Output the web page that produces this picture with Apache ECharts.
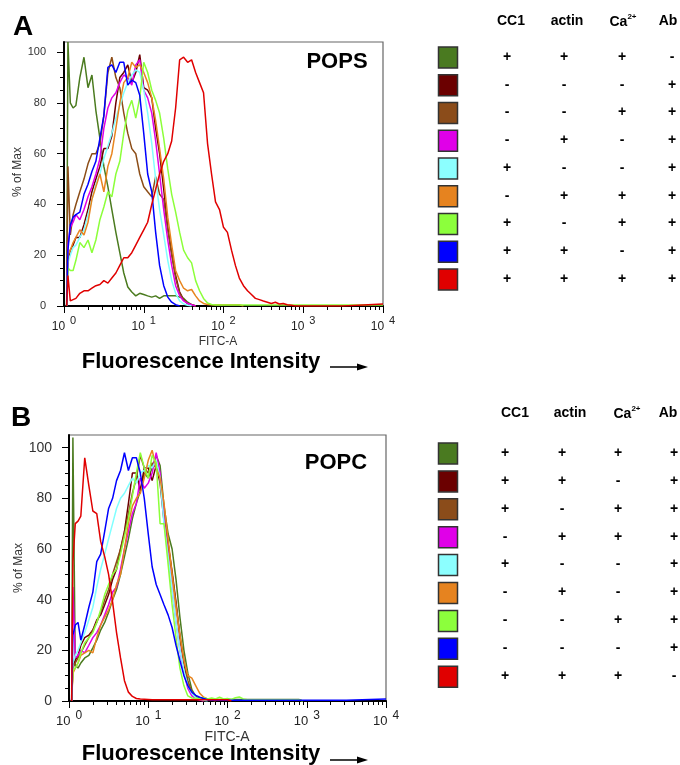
<!DOCTYPE html>
<html>
<head>
<meta charset="utf-8">
<script src="https://cdn.jsdelivr.net/npm/echarts@6/dist/echarts.min.js"></script>
<style>
    html, body { margin: 0; padding: 0; background: #fff; }
    #chart { width: 680px; height: 765px; }
</style>
</head>
<body>
<div id="chart"></div>
<script>
// FITC-A channel positions (intensity) shared by all histograms
var bins = [1.08, 1.12, 1.2, 1.3,
    1.41, 1.58, 1.78, 2.0, 2.24, 2.51, 2.82, 3.16, 3.55, 3.98,
    4.47, 5.01, 5.62, 6.31, 7.08, 7.94, 8.91, 10,
    11.2, 12.6, 14.1, 15.8, 17.8, 20, 22.4, 25.1, 28.2, 31.6, 35.5, 39.8, 44.7, 50.1, 56.2, 63.1, 70.8, 79.4, 89.1, 100,
    112, 126, 141, 158, 178, 200, 224, 251, 282, 316, 355, 398, 447, 501, 562, 631, 708, 794, 891, 1000,
    3162, 10000];

// panel A (POPS), % of max
var aGreen = [0, 104, 80, 78, 79, 90, 98, 86, 91, 77, 66, 55, 47, 38, 29, 21, 13, 7.5, 5.5, 4, 5, 4.5, 4, 3.5, 4, 3, 4, 4, 4, 4, 3.5, 3, 1.5, 0.5, 0];
var aMaroon = [0, 18, 22, 24, 27, 27, 32, 38, 45, 50, 55, 62, 62, 67, 80, 90, 92, 95, 88, 92, 99, 86, 85, 82, 70, 60, 46, 31, 21, 12, 5.5, 2.5, 1, 0.5, 0];
var aBrown = [0, 55, 28, 36, 40, 45, 50, 56, 60, 60, 64, 75, 92, 98, 90, 86, 76, 68, 62, 60, 52, 47, 45, 43, 51, 44, 42, 30, 20, 11, 5, 2.5, 1, 0.5, 0];
var aMagenta = [0, 24, 31, 33, 36, 34, 38, 43, 47, 52, 58, 70, 78, 82, 84, 88, 91, 90, 87, 95, 97, 85, 82, 76, 65, 52, 38, 26, 16, 8, 4, 2, 1, 0.5, 0];
var aCyan = [0, 17, 20, 23, 24, 27, 30, 36, 42, 48, 52, 58, 63, 68, 74, 79, 84, 88, 91, 93, 92, 85, 76, 64, 50, 38, 28, 18, 10, 5, 2, 0.8, 0.3, 0];
var aOrange = [0, 20, 22, 25, 27, 30, 28, 33, 42, 47, 52, 45, 55, 60, 70, 80, 88, 90, 96, 94, 95, 92, 88, 82, 73, 62, 50, 35, 24, 14, 10, 7, 6, 6.5, 4, 2, 1, 0.6, 0.5, 0.5, 0.5, 0.5, 0.5, 0.5, 0.5, 0.5, 0];
var aLight = [0, 15, 14, 14, 18, 25, 23, 26, 21, 26, 34, 39, 45, 43, 52, 57, 68, 77, 81, 74, 82, 96, 92, 85, 81, 76, 66, 54, 44, 37, 29, 22, 19, 17, 10, 6, 3, 1.2, 0.6,
    0.4, 0.4, 0.4, 0.4, 0.4, 0.4, 0.4, 0.4, 0.4, 0.4, 0.4, 0.4, 0.4, 0.4, 0.4, 0.4, 0.4, 0.4, 0.4, 0.4, 0.4, 0.4, 0.4, 0.4, 0.4];
var aBlue = [0, 22, 32, 35, 36, 37, 44, 48, 53, 57, 66, 75, 94, 95, 92, 96, 96, 87, 89, 88, 83, 68, 52, 45, 29, 16, 8, 3.5, 1.5, 0.5, 0];
var aRed = [0, 12, 2, 2.5, 3, 5, 6, 6, 7, 8, 8.5, 10, 9, 11, 13, 16, 19, 19, 21, 24, 27,
    30, 33, 40, 46, 52, 57, 60, 65, 78, 97, 98, 96, 97, 92, 88, 84, 64, 52, 41, 38,
    31, 29, 22, 16, 11, 8, 6, 4.5, 3, 2.5, 2, 1.5, 1, 1.5, 0.8, 1, 0.5, 0.3, 0, 0, 0, 0, 0.8];

// panel B (POPC), % of max
var bGreen = [0, 104, 14, 13, 15, 17, 18, 21, 24, 28, 31, 35, 40, 44, 50, 57, 64, 72, 78, 83, 90, 88, 92, 97, 93, 77, 66, 60, 48, 33, 20, 11, 4.5, 1.8, 1, 0.8, 0.7,
    0.6, 0.6, 0.6, 0.6, 0.6, 0.6, 0.6, 0.6, 0.6, 0.6, 0.6, 0.6, 0.6, 0.6, 0.6, 0.6, 0.6, 0.6, 0.6, 0.6, 0.6, 0.6, 0.6, 0];
var bMaroon = [0, 14, 16, 18, 22, 25, 26, 28, 32, 34, 38, 42, 48, 52, 60, 67, 78, 90, 90, 83, 92, 92, 87, 93, 86, 71, 62, 51, 39, 25, 15, 7, 3, 1.2, 0.5, 0];
var bBrown = [0, 13, 15, 17, 19, 22, 25, 28, 31, 35, 40, 44, 50, 55, 60, 66, 74, 82, 88, 97, 92, 90, 94, 92, 88, 74, 62, 50, 38, 26, 16, 8, 3.5, 1.5, 0.6, 0];
var bMagenta = [0, 45, 17, 18, 20, 19, 22, 25, 27, 30, 34, 38, 43, 45, 52, 60, 67, 74, 78, 88, 84, 86, 90, 98, 90, 72, 58, 44, 31, 20, 11, 5, 2, 0.8, 0.4, 0];
var bCyan = [0, 15, 18, 20, 23, 27, 32, 37, 45, 52, 58, 64, 70, 76, 80, 82, 85, 88, 86, 90, 91, 93, 92, 95, 88, 70, 57, 44, 31, 20, 12, 6, 3, 1.3, 0.7, 0.3, 0];
var bOrange = [0, 11, 13, 15, 18, 19, 20, 19, 25, 30, 33, 36, 40, 46, 50, 60, 70, 77, 80, 82, 88, 95, 99, 92, 88, 78, 64, 50, 37, 26, 16, 10, 9, 6, 3, 1.5, 0.8, 0.5, 0];
var bLight = [0, 12, 13, 15, 19, 23, 25, 27, 31, 36, 42, 46, 50, 52, 58, 65, 72, 81, 90, 98, 92, 88, 97, 94, 70, 70, 54, 38, 25, 13, 6, 2, 1.2, 1, 1, 1.3, 0.8, 1.2, 0.8, 1.5, 0.8, 1, 0.6, 1.3, 1.6, 0.8,
    0.5, 0.5, 0.5, 0.5, 0.5, 0.5, 0.5, 0.5, 0.5, 0.5, 0.5, 0.5, 0.5, 0.5, 0];
var bBlue = [0, 26, 30, 31, 24, 30, 37, 43, 55, 58, 67, 76, 80, 87, 91, 98, 91, 96, 96, 90, 80, 66, 53, 46, 42, 38, 34, 29, 22, 16, 10, 6, 3.5, 2.2, 1.5, 1, 0.5,
    0.3, 0.3, 0.3, 0.3, 0.3, 0.3, 0.3, 0.3, 0.3, 0.3, 0.3, 0.3, 0.3, 0.3, 0.3, 0.3, 0.3, 0.3, 0.3, 0.3, 0.3, 0.3, 0.3, 0.3, 0.3, 0.3, 0.8];
var bRed = [0, 55, 70, 71, 73, 96, 85, 75, 74, 63, 57, 50, 39, 27, 17, 8, 3.5, 1.8, 1, 0.8, 0.7, 0.6,
    0.5, 0.5, 0.5, 0.5, 0.5, 0.5, 0.5, 0.5, 0.5, 0.5, 0.5, 0.5, 0.5, 0.5, 0.5, 0.5, 0.5, 0.5, 0.5, 0.5, 0];

var lineColors = ['#4b7b1f', '#6d0000', '#8c4d17', '#e000e8', '#80ffff', '#e8851f', '#8cff3a', '#0000ff', '#e00000'];
var boxColors = ['#4a7a20', '#6b0000', '#8b4c1a', '#e000e8', '#8cffff', '#e6831f', '#8cff3c', '#0000ff', '#e00000'];

// condition tables (CC1, actin, Ca2+, Ab) for each coloured row
var headers = ['CC1', 'actin', 'Ca2+', 'Ab'];
var tableA = [['+', '+', '+', '-'], ['-', '-', '-', '+'], ['-', '-', '+', '+'], ['-', '+', '-', '+'], ['+', '-', '-', '+'],
    ['-', '+', '+', '+'], ['+', '-', '+', '+'], ['+', '+', '-', '+'], ['+', '+', '+', '+']];
var tableB = [['+', '+', '+', '+'], ['+', '+', '-', '+'], ['+', '-', '+', '+'], ['-', '+', '+', '+'], ['+', '-', '-', '+'],
    ['-', '+', '-', '+'], ['-', '-', '+', '+'], ['-', '-', '-', '+'], ['+', '+', '+', '-']];

var yLabels = [0, 20, 40, 60, 80, 100];
var FONT = '"Liberation Sans", Arial, sans-serif';

var minorY = [];
for (var i = 0; i <= 100; i += 5) minorY.push(i);
var minorX = [];
for (var d = 0; d < 4; d++) {
    for (var k = 1; k <= 9; k++) minorX.push(d + Math.log10(k));
}
minorX.push(4);

function toPoints(vals) {
    return vals.map(function (v, i) { return [bins[i], v]; });
}

function logAxis(grid, fs) {
    return {
        type: 'log', logBase: 10, min: 1, max: 10000, gridIndex: grid, position: 'bottom',
        axisLine: { lineStyle: { color: '#000', width: 2 } },
        axisTick: { length: 7, lineStyle: { color: '#000', width: 1 } },
        splitLine: { show: false },
        axisLabel: {
            margin: 9,
            formatter: function (v) {
                return '{b|10}{s|' + Math.round(Math.log10(v)) + '}';
            },
            rich: {
                b: { fontSize: fs, fontFamily: FONT, color: '#222', verticalAlign: 'bottom', lineHeight: 18 },
                s: { fontSize: fs - 1, fontFamily: FONT, color: '#222', verticalAlign: 'top', lineHeight: 18, padding: [0, 0, 0, 5] }
            }
        }
    };
}

function minorXAxis(grid) {
    return {
        type: 'value', min: 0, max: 4, gridIndex: grid, position: 'bottom',
        axisLine: { show: false },
        axisLabel: { show: false },
        splitLine: { show: false },
        axisTick: { length: 4, customValues: minorX, lineStyle: { color: '#000' } }
    };
}

function mainYAxis(grid, max, fs, margin) {
    return {
        type: 'value', min: 0, max: max, gridIndex: grid, position: 'left',
        axisLine: { lineStyle: { color: '#000', width: 2 } },
        axisTick: { length: 7, customValues: yLabels, lineStyle: { color: '#000' } },
        splitLine: { show: false },
        axisLabel: { customValues: yLabels, margin: margin, fontSize: fs, fontFamily: FONT, color: '#333' }
    };
}

function minorYAxis(grid, max) {
    return {
        type: 'value', min: 0, max: max, gridIndex: grid, position: 'left',
        axisLine: { show: false },
        axisLabel: { show: false },
        splitLine: { show: false },
        axisTick: { length: 4, customValues: minorY, lineStyle: { color: '#000' } }
    };
}

function makeSeries(list, xi, yi) {
    return list.map(function (vals, n) {
        return {
            type: 'line', xAxisIndex: xi, yAxisIndex: yi,
            data: toPoints(vals),
            showSymbol: false, symbol: 'none', silent: true,
            lineStyle: { color: lineColors[n], width: 1.5 },
            itemStyle: { color: lineColors[n] }
        };
    });
}

function txt(x, y, text, font, fill, extra) {
    var el = {
        type: 'text', x: x, y: y,
        style: { text: text, font: font, fill: fill || '#000', align: 'center', verticalAlign: 'middle' }
    };
    if (extra) {
        for (var key in extra) el[key] = extra[key];
    }
    return el;
}

// colored squares, column headers and +/- signs
function tableGraphics(rows, boxTop, pitch, signX, headX, headY) {
    var out = [];
    headers.forEach(function (h, c) {
        if (h === 'Ca2+') {
            out.push({
                type: 'text', x: headX[c], y: headY,
                style: {
                    text: '{n|Ca}{s|2+}', align: 'center', verticalAlign: 'middle',
                    rich: {
                        n: { font: 'bold 14px ' + FONT, fill: '#000', verticalAlign: 'bottom', lineHeight: 16 },
                        s: { font: 'bold 8px ' + FONT, fill: '#000', verticalAlign: 'top', lineHeight: 16 }
                    }
                }
            });
        } else {
            out.push(txt(headX[c], headY, h, 'bold 14px ' + FONT));
        }
    });
    rows.forEach(function (row, r) {
        var top = boxTop + pitch * r;
        out.push({
            type: 'rect', shape: { x: 438.5, y: top, width: 19, height: 21 },
            style: { fill: boxColors[r], stroke: '#333', lineWidth: 1.5 }
        });
        row.forEach(function (s, c) {
            out.push(txt(signX[c], top + 10, s, 'bold 14px ' + FONT));
        });
    });
    return out;
}

function arrow(x1, x2, y) {
    return [
        { type: 'line', shape: { x1: x1, y1: y, x2: x2 - 8, y2: y }, style: { stroke: '#000', lineWidth: 1.5 } },
        { type: 'polygon', shape: { points: [[x2 - 11, y - 3.5], [x2, y], [x2 - 11, y + 3.5]] }, style: { fill: '#000' } }
    ];
}

var graphics = [
    txt(23, 27, 'A', 'bold 28px ' + FONT),
    txt(21, 418, 'B', 'bold 28px ' + FONT),
    txt(337, 62, 'POPS', 'bold 22px ' + FONT),
    txt(336, 463, 'POPC', 'bold 22px ' + FONT),
    txt(218, 342, 'FITC-A', '12px ' + FONT, '#333'),
    txt(227, 737, 'FITC-A', '14px ' + FONT, '#333'),
    txt(18, 172, '% of Max', '12px ' + FONT, '#333', { rotation: Math.PI / 2 }),
    txt(19, 568, '% of Max', '12px ' + FONT, '#333', { rotation: Math.PI / 2 }),
    txt(201, 362, 'Fluorescence Intensity', 'bold 22px ' + FONT),
    txt(201, 754, 'Fluorescence Intensity', 'bold 22px ' + FONT)
].concat(arrow(330, 368, 367), arrow(330, 368, 760),
    tableGraphics(tableA, 47, 27.75, [507, 564, 622, 672], [511, 567, 623, 668], 21),
    tableGraphics(tableB, 443, 27.9, [505, 562, 618, 674], [515, 570, 627, 668], 413));

var chart = echarts.init(document.getElementById('chart'), null, { renderer: 'canvas' });

var option = {
    animation: false,
    backgroundColor: '#fff',
    grid: [
        { left: 64, top: 42, width: 319, height: 264, show: true, borderColor: '#666', borderWidth: 1.2 },
        { left: 69, top: 435, width: 317, height: 266, show: true, borderColor: '#666', borderWidth: 1.2 }
    ],
    xAxis: [logAxis(0, 12), minorXAxis(0), logAxis(1, 13), minorXAxis(1)],
    yAxis: [mainYAxis(0, 104, 11, 18), minorYAxis(0, 104), mainYAxis(1, 105, 14, 17), minorYAxis(1, 105)],
    series: makeSeries([aGreen, aMaroon, aBrown, aMagenta, aCyan, aOrange, aLight, aBlue, aRed], 0, 0)
        .concat(makeSeries([bGreen, bMaroon, bBrown, bMagenta, bCyan, bOrange, bLight, bBlue, bRed], 2, 2)),
    graphic: graphics
};

chart.setOption(option);
</script>
</body>
</html>
